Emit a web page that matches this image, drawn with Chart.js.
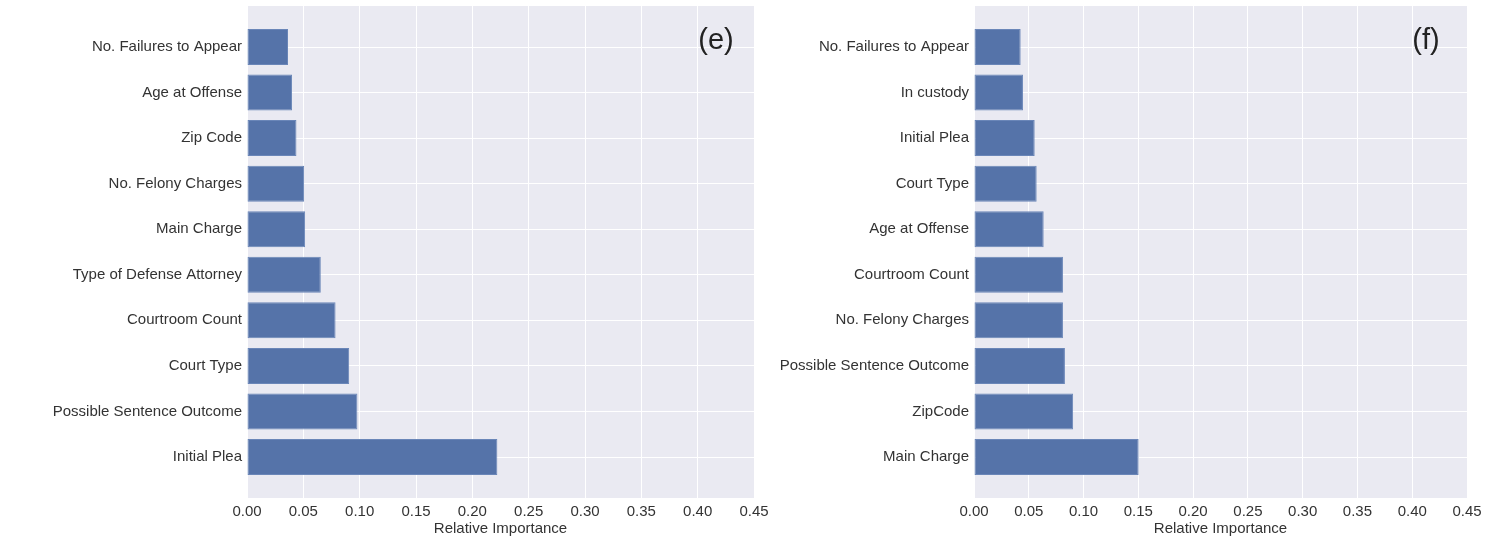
<!DOCTYPE html>
<html>
<head>
<meta charset="utf-8">
<script src="https://cdn.jsdelivr.net/npm/chart.js@4"></script>
<style>
  html, body { margin: 0; padding: 0; background: #ffffff; }
  body { width: 1502px; height: 544px; position: relative; overflow: hidden; }
  .wrap { position: absolute; top: 0; height: 544px; }
  #w1 { left: 0; width: 790px; }
  #w2 { left: 727px; width: 775px; }
</style>
</head>
<body>
<div class="wrap" id="w1"><canvas id="c1"></canvas></div>
<div class="wrap" id="w2"><canvas id="c2"></canvas></div>
<script>
// ---- data ----
const categoriesE = ["No. Failures to Appear", "Age at Offense", "Zip Code", "No. Felony Charges", "Main Charge",
  "Type of Defense Attorney", "Courtroom Count", "Court Type", "Possible Sentence Outcome", "Initial Plea"];
const valuesE = [0.0364, 0.0400, 0.0439, 0.0507, 0.0516, 0.0655, 0.0786, 0.0907, 0.0980, 0.2222];

const categoriesF = ["No. Failures to Appear", "In custody", "Initial Plea", "Court Type", "Age at Offense",
  "Courtroom Count", "No. Felony Charges", "Possible Sentence Outcome", "ZipCode", "Main Charge"];
const valuesF = [0.0426, 0.0447, 0.0554, 0.0572, 0.0636, 0.0812, 0.0812, 0.0830, 0.0905, 0.1503];

const xTicks = [0.00, 0.05, 0.10, 0.15, 0.20, 0.25, 0.30, 0.35, 0.40, 0.45];
const panelLabels = ["(e)", "(f)"];
const xTitle = "Relative Importance";

const FONT = "'Liberation Sans', Arial, Helvetica, sans-serif";
const TEXT = "#333333";

function makeChart(canvasId, cats, vals, panelLabel, labelInset, yAxisW, rightPad) {
  const pts = vals.map((v, i) => ({ x: v, y: i }));
  const panelPlugin = {
    id: 'panelLabel',
    afterDraw(chart) {
      const { ctx, chartArea } = chart;
      ctx.save();
      ctx.font = "29px " + FONT;
      ctx.fillStyle = "#222222";
      ctx.textAlign = "center";
      ctx.textBaseline = "middle";
      ctx.fillText(panelLabel, chartArea.right - labelInset, chartArea.top + 35);
      ctx.restore();
    }
  };
  return new Chart(document.getElementById(canvasId), {
    type: 'bar',
    data: {
      datasets: [{
        data: pts,
        backgroundColor: '#5573a9',
        borderColor: '#6a86b8',
        borderWidth: 1,
        borderSkipped: false,
        barPercentage: 0.79,
        categoryPercentage: 1.0
      }]
    },
    options: {
      indexAxis: 'y',
      responsive: true,
      maintainAspectRatio: false,
      animation: false,
      devicePixelRatio: 1,
      layout: { padding: { top: 6, right: rightPad, left: 0, bottom: 0 } },
      plugins: { legend: { display: false }, tooltip: { enabled: false } },
      scales: {
        x: {
          type: 'linear',
          min: 0, max: 0.45,
          afterBuildTicks(scale) { scale.ticks = xTicks.map(v => ({ value: v })); },
          afterFit(scale) { scale.height = 46; scale.paddingLeft = 0; scale.paddingRight = 0; },
          grid: { color: '#ffffff', lineWidth: 1, drawTicks: false },
          border: { display: false },
          ticks: {
            font: { family: FONT, size: 15 },
            color: TEXT,
            padding: 5,
            maxRotation: 0,
            autoSkip: false,
            callback: v => Number(v).toFixed(2)
          },
          title: {
            display: true,
            text: xTitle,
            font: { family: FONT, size: 15 },
            color: TEXT,
            padding: { top: 0, bottom: 6 }
          }
        },
        y: {
          type: 'linear',
          reverse: true,
          offset: false,
          min: -0.9, max: 9.9,
          afterBuildTicks(scale) { scale.ticks = cats.map((c, i) => ({ value: i })); },
          afterFit(scale) { scale.width = yAxisW; scale.paddingTop = 0; scale.paddingBottom = 0; },
          grid: { color: '#ffffff', lineWidth: 1, drawTicks: false, offset: false },
          border: { display: false },
          ticks: {
            font: { family: FONT, size: 15 },
            color: TEXT,
            padding: 5,
            autoSkip: false,
            callback: v => cats[Math.round(v)] ?? ''
          }
        }
      }
    },
    plugins: [
      {
        id: 'bg',
        beforeDraw(chart) {
          const { ctx, chartArea: a } = chart;
          ctx.save();
          ctx.fillStyle = '#eaeaf2';
          ctx.fillRect(a.left, a.top, a.right - a.left, a.bottom - a.top);
          ctx.restore();
        }
      },
      panelPlugin
    ]
  });
}

// left panel: plot spans x 247..754 ; canvas width 790
makeChart('c1', categoriesE, valuesE, panelLabels[0], 38, 247, 790 - 754);
// right panel: canvas starts at 727, width 775; plot spans 974..1467
makeChart('c2', categoriesF, valuesF, panelLabels[1], 41, 974 - 727, 775 - (1467 - 727));
</script>
</body>
</html>
